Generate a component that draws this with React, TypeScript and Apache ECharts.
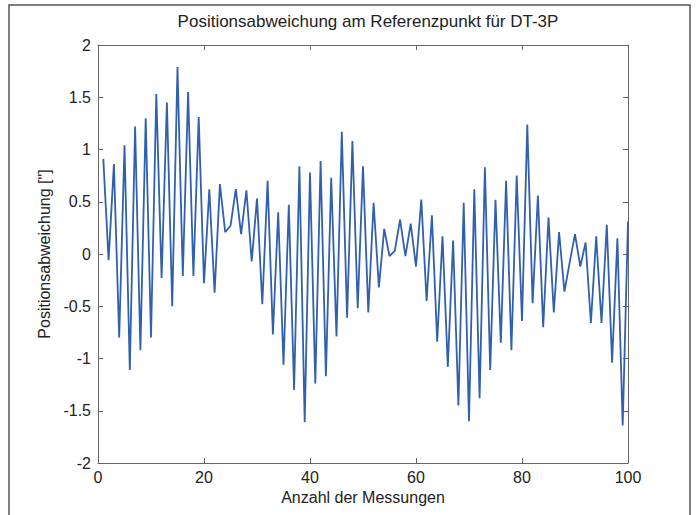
import React, { useEffect, useRef } from "react";
import * as echarts from "echarts";

const titleText = "Positionsabweichung am Referenzpunkt für DT-3P";
const xAxisName = "Anzahl der Messungen";
const yAxisName = 'Positionsabweichung ["]';

const deviation = [
  0.91, -0.06, 0.86, -0.8, 1.04, -1.11, 1.22, -0.92, 1.3, -0.8,
  1.53, -0.23, 1.45, -0.5, 1.79, -0.21, 1.55, -0.21, 1.31, -0.28,
  0.62, -0.37, 0.67, 0.21, 0.27, 0.62, 0.19, 0.61, -0.07, 0.53,
  -0.48, 0.7, -0.77, 0.4, -1.06, 0.47, -1.3, 0.84, -1.61, 0.78,
  -1.24, 0.89, -1.17, 0.73, -0.79, 1.17, -0.61, 1.08, -0.52, 0.84,
  -0.56, 0.49, -0.32, 0.24, -0.02, 0.03, 0.33, -0.02, 0.29, -0.12,
  0.52, -0.45, 0.37, -0.84, 0.17, -1.08, 0.13, -1.45, 0.49, -1.6,
  0.62, -1.38, 0.83, -1.11, 0.52, -0.85, 0.7, -0.92, 0.75, -0.64,
  1.24, -0.47, 0.56, -0.7, 0.35, -0.56, 0.21, -0.36, -0.08, 0.19,
  -0.12, 0.11, -0.66, 0.17, -0.66, 0.28, -1.04, 0.15, -1.64, 0.31,
];

export default function App() {
  const ref = useRef<HTMLDivElement>(null);
  useEffect(() => {
    if (!ref.current) return;
    const chart = echarts.init(ref.current, null, { renderer: "svg" });
    const data = deviation.map((v, i) => [i + 1, v]);
    const font = "'Liberation Sans', Arial, sans-serif";
    const axisColor = "#666";
    const textColor = "#222";
    const lineCfg = { show: true, onZero: false, lineStyle: { color: axisColor, width: 1 } };
    const tickCfg = { show: true, inside: true, length: 5, lineStyle: { color: axisColor } };
    chart.setOption({
      animation: false,
      backgroundColor: "#fff",
      title: {
        text: titleText,
        left: 363,
        top: 8,
        textAlign: "center",
        textStyle: { fontFamily: font, fontSize: 17, fontWeight: "normal", color: textColor },
      },
      grid: { left: 98, right: 70, top: 45, bottom: 52 },
      graphic: [
        {
          type: "rect",
          shape: { x: 9, y: 5, width: 681, height: 530 },
          style: { fill: "none", stroke: "#555", lineWidth: 1.5 },
          silent: true,
        },
      ],
      xAxis: [
        {
          type: "value",
          min: 0,
          max: 100,
          interval: 20,
          position: "bottom",
          name: xAxisName,
          nameLocation: "middle",
          nameGap: 26,
          nameTextStyle: { fontFamily: font, fontSize: 16, color: textColor },
          axisLine: lineCfg,
          axisTick: tickCfg,
          axisLabel: { fontFamily: font, fontSize: 16, color: textColor, margin: 6 },
          splitLine: { show: false },
        },
        {
          type: "value",
          min: 0,
          max: 100,
          interval: 20,
          position: "top",
          axisLine: lineCfg,
          axisTick: tickCfg,
          axisLabel: { show: false },
          splitLine: { show: false },
        },
      ],
      yAxis: [
        {
          type: "value",
          min: -2,
          max: 2,
          interval: 0.5,
          position: "left",
          name: yAxisName,
          nameLocation: "middle",
          nameGap: 42,
          nameTextStyle: { fontFamily: font, fontSize: 16, color: textColor },
          axisLine: lineCfg,
          axisTick: tickCfg,
          axisLabel: { fontFamily: font, fontSize: 16, color: textColor, margin: 7 },
          splitLine: { show: false },
        },
        {
          type: "value",
          min: -2,
          max: 2,
          interval: 0.5,
          position: "right",
          axisLine: lineCfg,
          axisTick: tickCfg,
          axisLabel: { show: false },
          splitLine: { show: false },
        },
      ],
      series: [
        {
          type: "line",
          data,
          xAxisIndex: 0,
          yAxisIndex: 0,
          showSymbol: false,
          symbol: "none",
          lineStyle: { color: "#3160ad", width: 1.8 },
        },
      ],
    });
    return () => chart.dispose();
  }, []);
  return (
    <div
      ref={ref}
      style={{ position: "absolute", left: 0, top: 0, width: 698, height: 515 }}
    />
  );
}
